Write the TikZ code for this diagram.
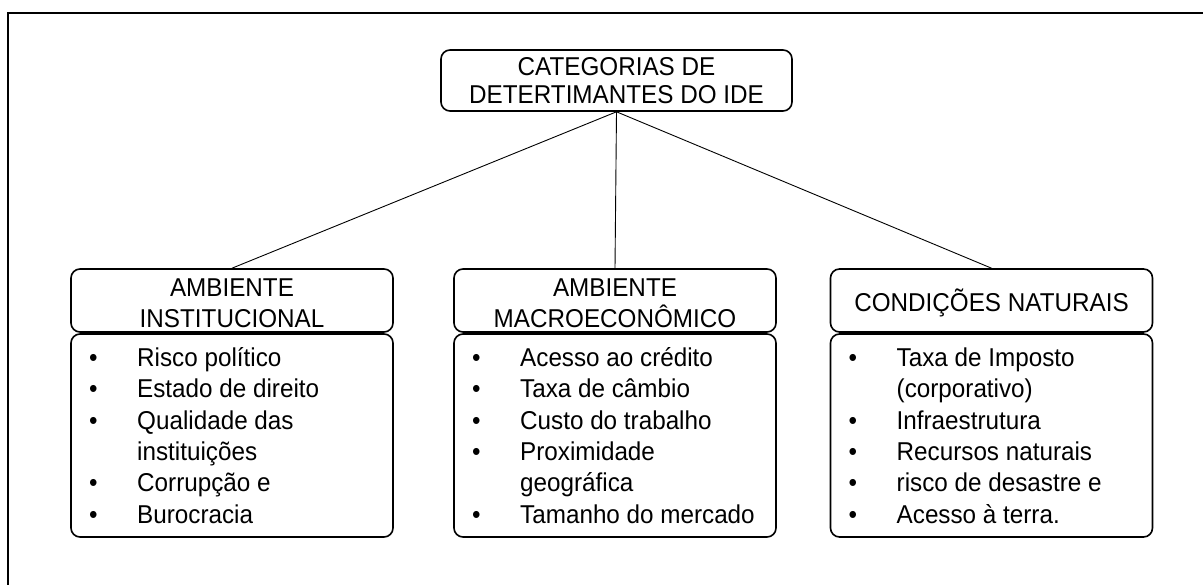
\documentclass[tikz,border=0pt]{standalone}
\usepackage{fontspec}
\setmainfont{Liberation Sans}[FakeStretch=0.94]
\newcommand\bitem[1]{\makebox[48pt][l]{•}#1}
\newcommand\bcont[1]{\hspace*{48pt}#1}
\newcommand\shiftdown[2]{\raisebox{-#1}[\height][\depth]{#2}}
\begin{document}
\begin{tikzpicture}[x=1pt,y=-1pt,
 box/.style={draw, line width=1.6pt, rounded corners=9pt, inner sep=0pt, minimum width=322pt},
 conn/.style={line width=0.9pt},
 frame/.style={line width=1.8pt},
 hdr/.style={box, minimum height=63pt, align=center, font=\fontsize{25.8}{31.6}\selectfont},
 body/.style={box, minimum height=203pt},
 item/.style={anchor=base west, inner sep=0pt, font=\fontsize{25.8}{29}\selectfont}]
\useasboundingbox (0,0) rectangle (1203,585);
\draw[frame] (8,585) -- (8,13) -- (1203,13);
% root
\node[box, minimum width=351pt, minimum height=61pt, align=center,
      font=\fontsize{25.8}{28.3}\selectfont] (root) at (616.5,80.5)
      {CATEGORIAS DE\\DETERTIMANTES DO IDE};
% headers
\node[hdr] (h1) at (232,300.5) {\rule{0pt}{0.9em}AMBIENTE\\INSTITUCIONAL};
\node[hdr] (h2) at (615,300.5) {\rule{0pt}{0.9em}AMBIENTE\\MACROECONÔMICO};
\node[hdr] (h3) at (991.5,300.5) {\shiftdown{2.5pt}{CONDIÇÕES NATURAIS}};
% bodies
\node[body] (b1) at (232,435.5) {};
\node[body] (b2) at (615,435.5) {};
\node[body] (b3) at (991.5,435.5) {};
% connectors
\draw[conn] (root.south) -- (h1.north);
\draw[conn] (root.south) -- (h2.north);
\draw[conn] (root.south) -- (h3.north);
% items
\foreach \t [count=\i] in {\bitem{Risco político},\bitem{Estado de direito},\bitem{Qualidade das},\bcont{instituições},\bitem{Corrupção e},\bitem{Burocracia}}
  \node[item] (L\i) at (89,{366.5+31.35*(\i-1)}) {\t};
\foreach \t [count=\i] in {\bitem{Acesso ao crédito},\bitem{Taxa de câmbio},\bitem{Custo do trabalho},\bitem{Proximidade},\bcont{geográfica},\bitem{Tamanho do mercado}}
  \node[item] (M\i) at (472,{366.5+31.35*(\i-1)}) {\t};
\foreach \t [count=\i] in {\bitem{Taxa de Imposto},\bcont{(corporativo)},\bitem{Infraestrutura},\bitem{Recursos naturais},\bitem{risco de desastre e},\bitem{Acesso à terra.}}
  \node[item] (R\i) at (848.5,{366.5+31.35*(\i-1)}) {\t};
\end{tikzpicture}
\end{document}
